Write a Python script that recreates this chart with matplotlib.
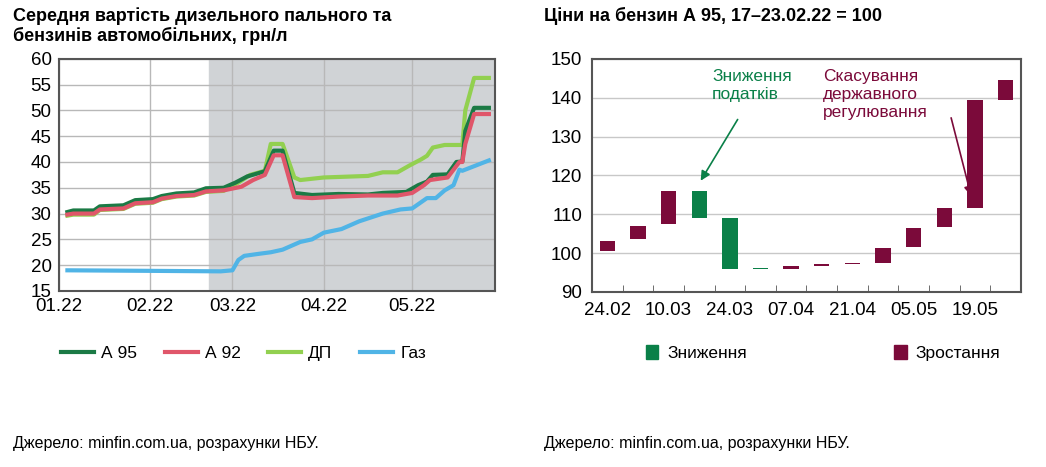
import numpy as np
import matplotlib
matplotlib.use("Agg")
import matplotlib.pyplot as plt
from matplotlib.patches import Patch

# left chart: day of year 2022 (0 = 01.01), price UAH/l
a95_d = [3, 5, 12, 14, 22, 26, 32, 35, 40, 46, 50, 56, 60, 64, 70, 73, 76, 80, 86, 95, 105, 110, 118, 122, 125, 127, 132, 135, 137, 138, 141, 146]
a95_v = [30.3, 30.6, 30.6, 31.4, 31.6, 32.6, 32.8, 33.4, 33.9, 34.1, 34.9, 35.0, 36.0, 37.2, 38.2, 42.2, 42.2, 34.0, 33.6, 33.8, 33.7, 34.0, 34.2, 35.5, 36.2, 37.5, 37.6, 40.0, 40.1, 46.0, 50.5, 50.5]
a92_d = [3, 5, 12, 14, 22, 26, 32, 35, 40, 46, 50, 56, 62, 66, 70, 73, 76, 80, 86, 95, 105, 115, 120, 124, 126, 132, 136, 137, 138, 141, 146]
a92_v = [29.8, 30.0, 30.0, 30.8, 31.0, 32.0, 32.2, 32.9, 33.4, 33.6, 34.3, 34.5, 35.2, 36.5, 37.5, 41.3, 41.3, 33.2, 33.0, 33.3, 33.5, 33.5, 34.0, 35.5, 36.5, 37.0, 40.0, 40.0, 43.5, 49.3, 49.3]
dp_d = [3, 5, 12, 14, 22, 26, 32, 35, 40, 46, 50, 56, 61, 65, 70, 72, 76, 80, 82, 90, 105, 110, 115, 119, 123, 125, 127, 131, 137, 138, 141, 146]
dp_v = [29.6, 29.8, 29.8, 30.7, 30.9, 31.9, 32.1, 32.8, 33.3, 33.5, 34.2, 34.4, 36.0, 37.5, 38.3, 43.5, 43.5, 37.0, 36.5, 37.0, 37.3, 38.0, 38.0, 39.3, 40.5, 41.2, 42.8, 43.3, 43.3, 50.0, 56.3, 56.3]
gas_d = [3, 30, 55, 59, 61, 63, 68, 72, 76, 82, 86, 90, 96, 102, 110, 116, 120, 125, 128, 131, 134, 136, 137, 146]
gas_v = [19.0, 18.9, 18.8, 19.0, 21.0, 21.8, 22.2, 22.5, 23.0, 24.5, 25.0, 26.3, 27.0, 28.5, 30.0, 30.8, 31.0, 33.0, 33.0, 34.5, 35.5, 38.5, 38.3, 40.3]
shade_from = 51
left_ticks = [0, 31, 59, 90, 120]
left_labels = ["01.22", "02.22", "03.22", "04.22", "05.22"]

# right chart: A95 index, weekly bars
r_labels = ["24.02", "10.03", "24.03", "07.04", "21.04", "05.05", "19.05"]
r_bottom = [100.5, 103.5, 107.5, 109.0, 96.0, 95.8, 95.8, 96.7, 97.2, 97.5, 101.5, 106.8, 111.5, 139.5]
r_top = [103.0, 107.0, 116.0, 116.0, 109.0, 96.1, 96.7, 97.2, 97.5, 101.3, 106.5, 111.5, 139.5, 144.5]
r_down = [False, False, False, True, True, True, False, False, False, False, False, False, False, False]

c_a95, c_a92, c_dp, c_gas = "#1b7a45", "#e0566a", "#92d050", "#50b4e6"
c_up, c_dn = "#7b0a3a", "#0a8048"
plt.rcParams['font.family'] = ['Liberation Sans', 'DejaVu Sans']

fig = plt.figure(figsize=(10.46, 4.67), dpi=100)

ax = fig.add_axes([0.056, 0.377, 0.417, 0.497])
ax.axvspan(shade_from, 148, color="#d0d3d6", zorder=0)
ax.plot(gas_d, gas_v, color=c_gas, lw=3, label="Газ", zorder=3)
ax.plot(dp_d, dp_v, color=c_dp, lw=3, label="ДП", zorder=3)
ax.plot(a95_d, a95_v, color=c_a95, lw=3, label="А 95", zorder=3)
ax.plot(a92_d, a92_v, color=c_a92, lw=3, label="А 92", zorder=4)
ax.set_xlim(0, 148)
ax.set_ylim(15, 60)
ax.set_yticks(range(15, 61, 5))
ax.set_xticks(left_ticks)
ax.set_xticklabels(left_labels)
ax.grid(True, color="#b8b8b8", lw=1)
ax.set_axisbelow(True)
ax.tick_params(length=0, labelsize=13.5, pad=5)
for s in ax.spines.values():
    s.set_color("#555555"); s.set_linewidth(1.5)
h, l = ax.get_legend_handles_labels()
order = [2, 3, 1, 0]
ax.legend([h[i] for i in order], [l[i] for i in order], ncol=4, frameon=False,
          loc="upper left", bbox_to_anchor=(-0.03, -0.17), fontsize=12.5, handlelength=1.9,
          handletextpad=0.4, columnspacing=1.6)
fig.text(0.012, 0.985, "Середня вартість дизельного пального та\nбензинів автомобільних, грн/л",
         fontsize=13, fontweight="bold", va="top", linespacing=1.15)
fig.text(0.012, 0.04, "Джерело: minfin.com.ua, розрахунки НБУ.", fontsize=11.5)

ax2 = fig.add_axes([0.566, 0.375, 0.41, 0.499])
x = np.arange(len(r_top))
cols = [c_dn if d else c_up for d in r_down]
ax2.bar(x, np.array(r_top) - np.array(r_bottom), bottom=r_bottom, width=0.5, color=cols, zorder=3)
ax2.set_xlim(-0.5, 13.5)
ax2.set_ylim(90, 150)
ax2.set_yticks(range(90, 151, 10))
ax2.set_xticks(range(0, 14, 2))
ax2.set_xticklabels(r_labels)
ax2.set_xticks(np.arange(0.5, 13, 1), minor=True)
ax2.tick_params(axis="x", which="minor", direction="in", length=5, color="#555555")
ax2.tick_params(which="major", length=0, labelsize=13.5, pad=7)
ax2.grid(True, axis="y", color="#c8c8c8", lw=1)
ax2.set_axisbelow(True)
for s in ax2.spines.values():
    s.set_color("#555555"); s.set_linewidth(1.5)
ax2.text(3.42, 147.5, "Зниження\nподатків", color=c_dn, fontsize=12.5, ha="left", va="top", linespacing=1.25)
ax2.annotate("", xy=(3.0, 118), xytext=(4.3, 135),
             arrowprops=dict(arrowstyle="-|>", color=c_dn, lw=1.2, mutation_scale=14))
ax2.text(7.05, 147.5, "Скасування\nдержавного\nрегулювання", color=c_up, fontsize=12.5, ha="left", va="top", linespacing=1.25)
ax2.annotate("", xy=(11.9, 114), xytext=(11.2, 135.5),
             arrowprops=dict(arrowstyle="-|>", color=c_up, lw=1.2, mutation_scale=14))
ax2.legend([Patch(color=c_dn), Patch(color=c_up)], ["Зниження", "Зростання"], ncol=2,
           frameon=False, loc="upper left", bbox_to_anchor=(0.09, -0.16), fontsize=12.5,
           handlelength=0.7, handleheight=0.9, handletextpad=0.5, columnspacing=8.5)
fig.text(0.52, 0.985, "Ціни на бензин А 95, 17–23.02.22 = 100", fontsize=13, fontweight="bold", va="top")
fig.text(0.52, 0.04, "Джерело: minfin.com.ua, розрахунки НБУ.", fontsize=11.5)

fig.savefig("out.png", dpi=100)
